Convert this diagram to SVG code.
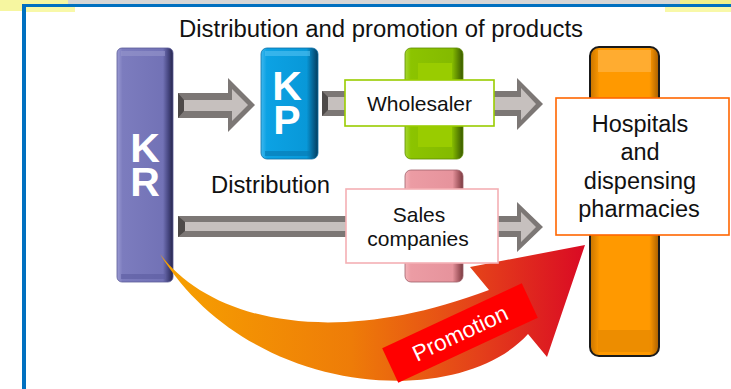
<svg xmlns="http://www.w3.org/2000/svg" width="731" height="389" viewBox="0 0 731 389">
  <defs>
    <style>
      .lbl { font-family: "Liberation Sans", Arial, sans-serif; fill: #111; }
      .mono { font-family: "Liberation Sans", Arial, sans-serif; font-weight: bold; fill: #fff; writing-mode: vertical-rl; text-orientation: upright; }
      .shaft-out { fill: #7c7775; }
      .shaft-in { fill: #c6c0be; }
      .cap { fill: #4e4a49; }
      .box { fill: #fff; stroke-width: 1.6; }
    </style>
    <linearGradient id="gKR" x1="0" y1="0" x2="1" y2="0">
      <stop offset="0" stop-color="#9a9ad2"/>
      <stop offset="0.1" stop-color="#7c7cbe"/>
      <stop offset="0.82" stop-color="#7272b6"/>
      <stop offset="0.92" stop-color="#45457f"/>
      <stop offset="1" stop-color="#25254a"/>
    </linearGradient>
    <linearGradient id="gKP" x1="0" y1="0" x2="1" y2="0">
      <stop offset="0" stop-color="#40b8ee"/>
      <stop offset="0.1" stop-color="#0ca2e4"/>
      <stop offset="0.8" stop-color="#0898d8"/>
      <stop offset="0.92" stop-color="#05608f"/>
      <stop offset="1" stop-color="#033d5e"/>
    </linearGradient>
    <linearGradient id="gGreen" x1="0" y1="0" x2="1" y2="0">
      <stop offset="0" stop-color="#a6d830"/>
      <stop offset="0.1" stop-color="#8cc400"/>
      <stop offset="0.82" stop-color="#84ba00"/>
      <stop offset="0.93" stop-color="#557e00"/>
      <stop offset="1" stop-color="#3a5800"/>
    </linearGradient>
    <linearGradient id="gPink" x1="0" y1="0" x2="1" y2="0">
      <stop offset="0" stop-color="#f4b4ba"/>
      <stop offset="0.1" stop-color="#ec9ca4"/>
      <stop offset="0.82" stop-color="#e6939c"/>
      <stop offset="0.93" stop-color="#a65a62"/>
      <stop offset="1" stop-color="#7a3c42"/>
    </linearGradient>
    <linearGradient id="gOrange" x1="0" y1="0" x2="1" y2="0">
      <stop offset="0" stop-color="#c87400"/>
      <stop offset="0.14" stop-color="#ff9900"/>
      <stop offset="0.86" stop-color="#ff9900"/>
      <stop offset="1" stop-color="#a85e00"/>
    </linearGradient>
    <linearGradient id="gPromo" gradientUnits="userSpaceOnUse" x1="160" y1="0" x2="585" y2="0">
      <stop offset="0" stop-color="#f7a200"/>
      <stop offset="0.45" stop-color="#ee7c08"/>
      <stop offset="0.75" stop-color="#e4401a"/>
      <stop offset="1" stop-color="#da0a24"/>
    </linearGradient>
  </defs>

  <rect width="731" height="389" fill="#fff"/>

  <!-- page frame -->
  <g id="frame">
    <rect x="0" y="0" width="731" height="4" fill="#d6d6d6"/>
    <rect x="0" y="0" width="68" height="11" fill="#f6f6a0"/>
    <rect x="680" y="0" width="51" height="4" fill="#f0f08a"/>
    <rect x="26" y="7" width="49" height="5" fill="#f8f8a8"/>
    <rect x="665" y="7" width="66" height="5" fill="#f8f8a8"/>
    <rect x="22" y="4" width="709" height="3" fill="#0070c0"/>
    <rect x="22" y="4" width="4" height="385" fill="#0070c0"/>
  </g>

  <text id="title" class="lbl" x="381" y="37" font-size="23" text-anchor="middle" textLength="404" lengthAdjust="spacingAndGlyphs">Distribution and promotion of products</text>

  <!-- KR column -->
  <g id="node-kr">
    <rect x="117" y="48" width="56" height="234" rx="5" fill="url(#gKR)" stroke="#5a5a98" stroke-width="0.8"/>
    <rect x="121" y="51" width="44" height="5" fill="#9696cc" opacity="0.6"/>
    <rect x="121" y="274" width="44" height="5" fill="#5c5ca0" opacity="0.6"/>
    <text class="mono" x="145" y="125" font-size="41" letter-spacing="-12">KR</text>
  </g>

  <!-- KP column -->
  <g id="node-kp">
    <rect x="261" y="48" width="57" height="111" rx="6" fill="url(#gKP)" stroke="#0a6ea6" stroke-width="0.8"/>
    <rect x="265" y="51" width="45" height="5" fill="#52c2f2" opacity="0.6"/>
    <rect x="265" y="151" width="45" height="5" fill="#0678b0" opacity="0.6"/>
    <text class="mono" x="287" y="63" font-size="41" letter-spacing="-12">KP</text>
  </g>

  <!-- column backs for the middle partners -->
  <g id="bar-wholesaler">
    <rect x="405" y="48" width="58" height="111" rx="6" fill="url(#gGreen)" stroke="#5e8c00" stroke-width="0.8"/>
    <rect x="418" y="63" width="34" height="84" fill="#99cc00"/>
  </g>
  <g id="bar-sales">
    <rect x="405" y="170" width="58" height="112" rx="6" fill="url(#gPink)" stroke="#a0606a" stroke-width="0.8"/>
  </g>

  <!-- hospitals column -->
  <g id="bar-hospitals">
    <rect x="590" y="47" width="69" height="309" rx="9" fill="url(#gOrange)" stroke="#1a1a1a" stroke-width="2"/>
    <rect x="598" y="50" width="53" height="22" fill="#ffb444" opacity="0.7"/>
    <rect x="598" y="330" width="53" height="22" fill="#e88a00" opacity="0.8"/>
  </g>

  <!-- connectors -->
  <g id="connectors">
    <!-- KR to KP -->
    <path class="shaft-out" d="M178,93 L228,93 L228,78 L255,105 L228,132 L228,118 L178,118 Z"/>
    <path class="shaft-in" d="M184,100 L232,100 L232,89 L248,105 L232,121 L232,111 L184,111 Z"/>
    <path class="cap" d="M178,93 L184,100 L184,111 L178,118 Z"/>
    <!-- KP to hospitals via wholesaler -->
    <path class="shaft-out" d="M322,91 L517,91 L517,78 L543,104 L517,130 L517,116 L322,116 Z"/>
    <path class="shaft-in" d="M328,97 L521,97 L521,88 L536,104 L521,120 L521,110 L328,110 Z"/>
    <path class="cap" d="M322,91 L328,97 L328,110 L322,116 Z"/>
    <!-- KR to hospitals via sales companies -->
    <path class="shaft-out" d="M178,216 L517,216 L517,202 L543,227 L517,252 L517,237 L178,237 Z"/>
    <path class="shaft-in" d="M185,222 L521,222 L521,212 L536,227 L521,242 L521,231 L185,231 Z"/>
    <path class="cap" d="M178,216 L185,222 L185,231 L178,237 Z"/>
    <!-- promotion sweep -->
    <path fill="url(#gPromo)" d="M160,254 C210,320 330,350 489,290 L470,267 L585,245 L547,357 L528,334 C460,410 250,400 160,254 Z"/>
    <g id="promotion-label" transform="translate(460,333) rotate(-25)">
      <rect x="-77" y="-19" width="154" height="38" fill="#ff0000"/>
      <text x="0" y="8" font-family="Liberation Sans, Arial, sans-serif" font-size="22.5" fill="#fff" text-anchor="middle">Promotion</text>
    </g>
  </g>

  <text id="label-distribution" class="lbl" x="211" y="193" font-size="23.5" textLength="119" lengthAdjust="spacingAndGlyphs">Distribution</text>

  <g id="node-wholesaler">
    <rect class="box" x="345" y="80" width="149" height="46" stroke="#99cc00"/>
    <text class="lbl" x="419.5" y="111" font-size="21" text-anchor="middle">Wholesaler</text>
  </g>

  <g id="node-sales">
    <rect class="box" x="346" y="189" width="152" height="74" stroke="#f4b0b4"/>
    <text class="lbl" x="419" y="222" font-size="21" text-anchor="middle">Sales</text>
    <text class="lbl" x="418" y="246" font-size="21" text-anchor="middle">companies</text>
  </g>

  <g id="node-hospitals">
    <rect class="box" x="556" y="98" width="173" height="137" stroke="#ff6600" stroke-width="2"/>
    <text class="lbl" x="640" y="132" font-size="23.5" text-anchor="middle">Hospitals</text>
    <text class="lbl" x="640" y="160" font-size="23.5" text-anchor="middle">and</text>
    <text class="lbl" x="640" y="189" font-size="23.5" text-anchor="middle">dispensing</text>
    <text class="lbl" x="639" y="217" font-size="23.5" text-anchor="middle">pharmacies</text>
  </g>
</svg>
